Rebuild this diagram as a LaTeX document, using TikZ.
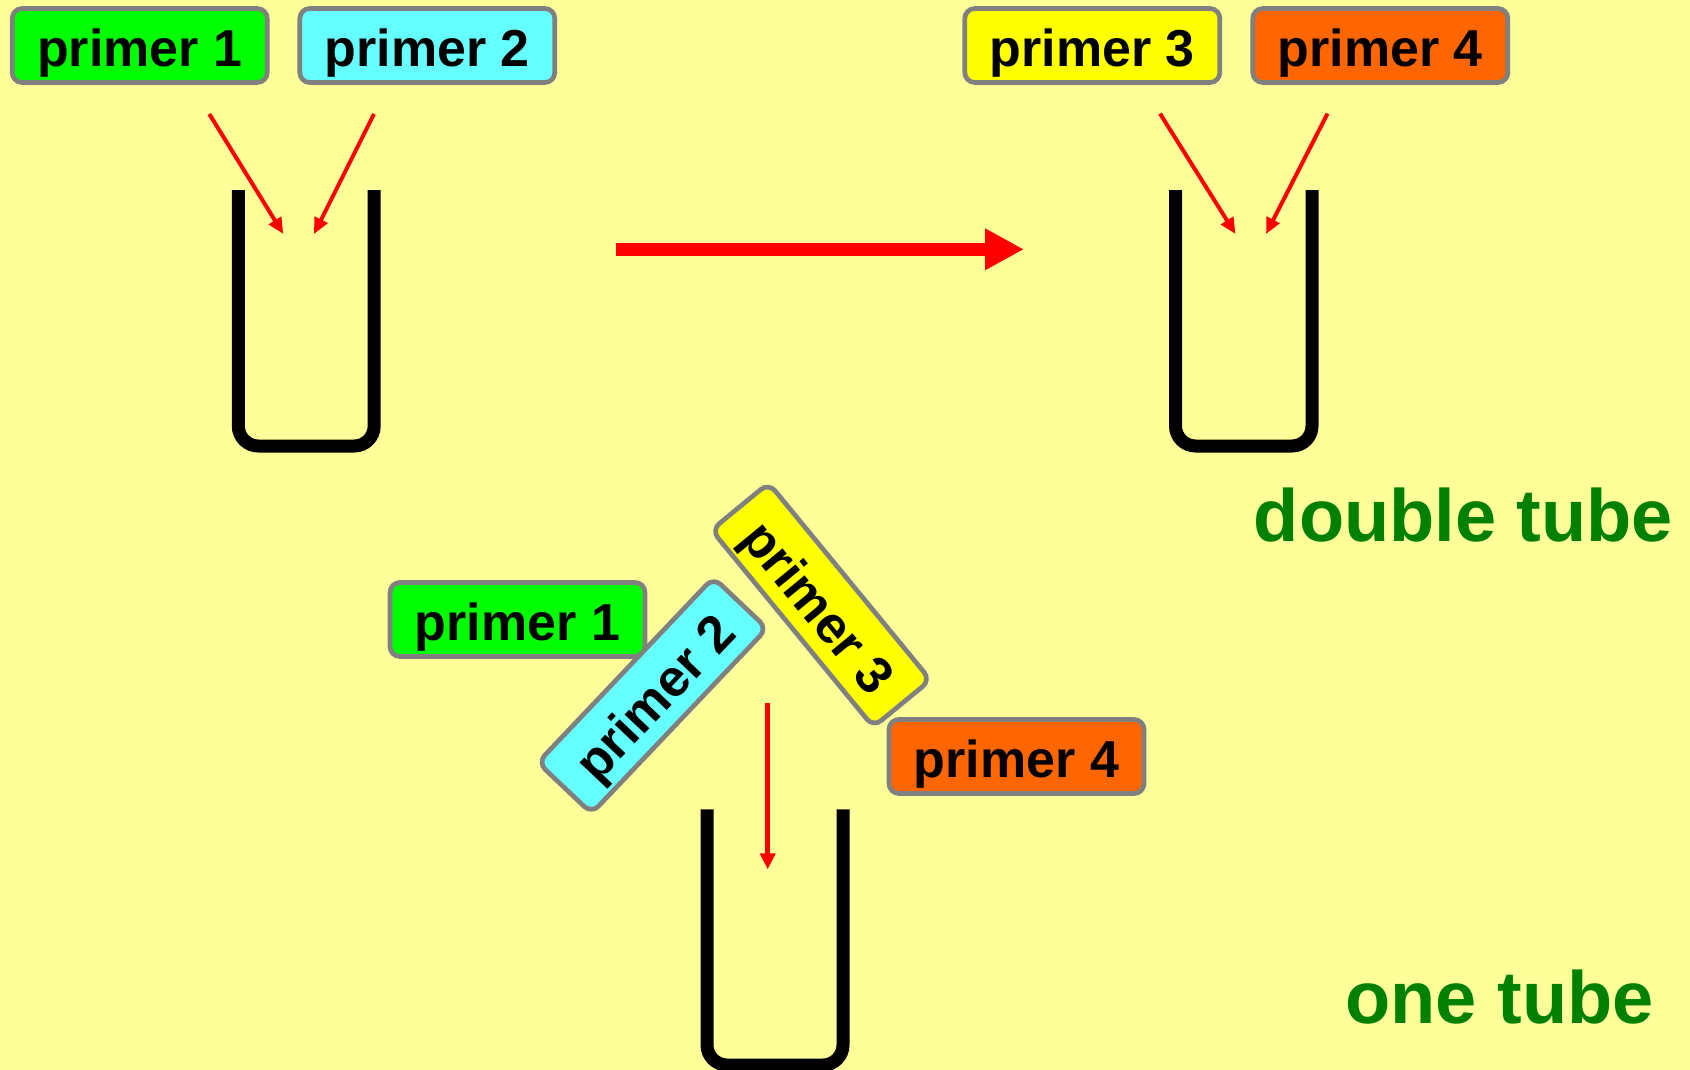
\documentclass[tikz,border=0pt]{standalone}
\usepackage{fontspec}
\setmainfont{Liberation Sans}
\usetikzlibrary{arrows.meta}
\definecolor{paper}{HTML}{FFFF99}
\definecolor{rim}{HTML}{808080}
\definecolor{pgreen}{HTML}{00FF00}
\definecolor{pcyan}{HTML}{66FFFF}
\definecolor{pyellow}{HTML}{FFFF00}
\definecolor{porange}{HTML}{FF6600}
\definecolor{darkgreen}{HTML}{008000}
\begin{document}
\begin{tikzpicture}[x=1pt,y=-1pt,
  primer/.style={draw=rim, line width=4.7pt, rounded corners=10pt,
    minimum width=255pt, minimum height=74pt, inner sep=0pt,
    text height=52pt, text depth=10pt, font=\fontsize{52}{52}\selectfont\bfseries},
  tube/.style={line width=13pt, rounded corners=20pt},
  feed/.style={red, line width=4pt, -{Triangle[length=16pt,width=14pt]}},
  tubename/.style={text=darkgreen, anchor=base east, inner sep=0pt,
    font=\fontsize{74}{74}\selectfont\bfseries}]
\useasboundingbox (0,0) rectangle (1690,1070);
\fill[paper] (0,0) rectangle (1690,1070);
% two separate tubes
\node[primer, fill=pgreen]  (p1) at (139.7,45.5) {primer 1};
\node[primer, fill=pcyan]   (p2) at (427.3,45.5) {primer 2};
\node[primer, fill=pyellow] (p3) at (1092.3,45.5) {primer 3};
\node[primer, fill=porange] (p4) at (1380.3,45.5) {primer 4};
\draw[tube] (238.3,190)--(238.3,446)--(374.2,446)--(374.2,190);
\draw[tube] (1175.5,190)--(1175.5,446)--(1312,446)--(1312,190);
\coordinate (s1) at (209.3,114);  \coordinate (t1) at (283.3,234);
\coordinate (s2) at (374,114);    \coordinate (t2) at (314,234);
\coordinate (s3) at (1160,113.6); \coordinate (t3) at (1235.5,234);
\coordinate (s4) at (1327.5,113.6); \coordinate (t4) at (1266,234);
\foreach \i in {1,...,4}
    \draw[feed] (s\i)--(t\i);
\coordinate (go) at (616,249.3);
\coordinate (done) at (1024,249.3);
\draw[red, line width=13.3pt, -{Triangle[length=39pt,width=39pt]}] (go)--(done);
\node[tubename] (double) at (1673.3,541.7) {double tube};
% all four primers in one tube
\node[primer, fill=pgreen]  (q1) at (517.5,619.5) {primer 1};
\node[primer, fill=pcyan, rotate=46.5]   (q2) at (652.5,695.5) {primer 2};
\node[primer, fill=pyellow, rotate=-50.6] (q3) at (821,605) {primer 3};
\node[primer, fill=porange] (q4) at (1016.5,756.5) {primer 4};
\draw[tube] (707,809.4)--(707,1065)--(843,1065)--(843,809.4);
\coordinate (mix) at (767.7,703.3);
\coordinate (into) at (767.7,869.3);
\draw[red, line width=5.3pt, -{Triangle[length=16pt,width=15pt]}] (mix)--(into);
\node[tubename] (single) at (1654,1023) {one tube};
\end{tikzpicture}
\end{document}
